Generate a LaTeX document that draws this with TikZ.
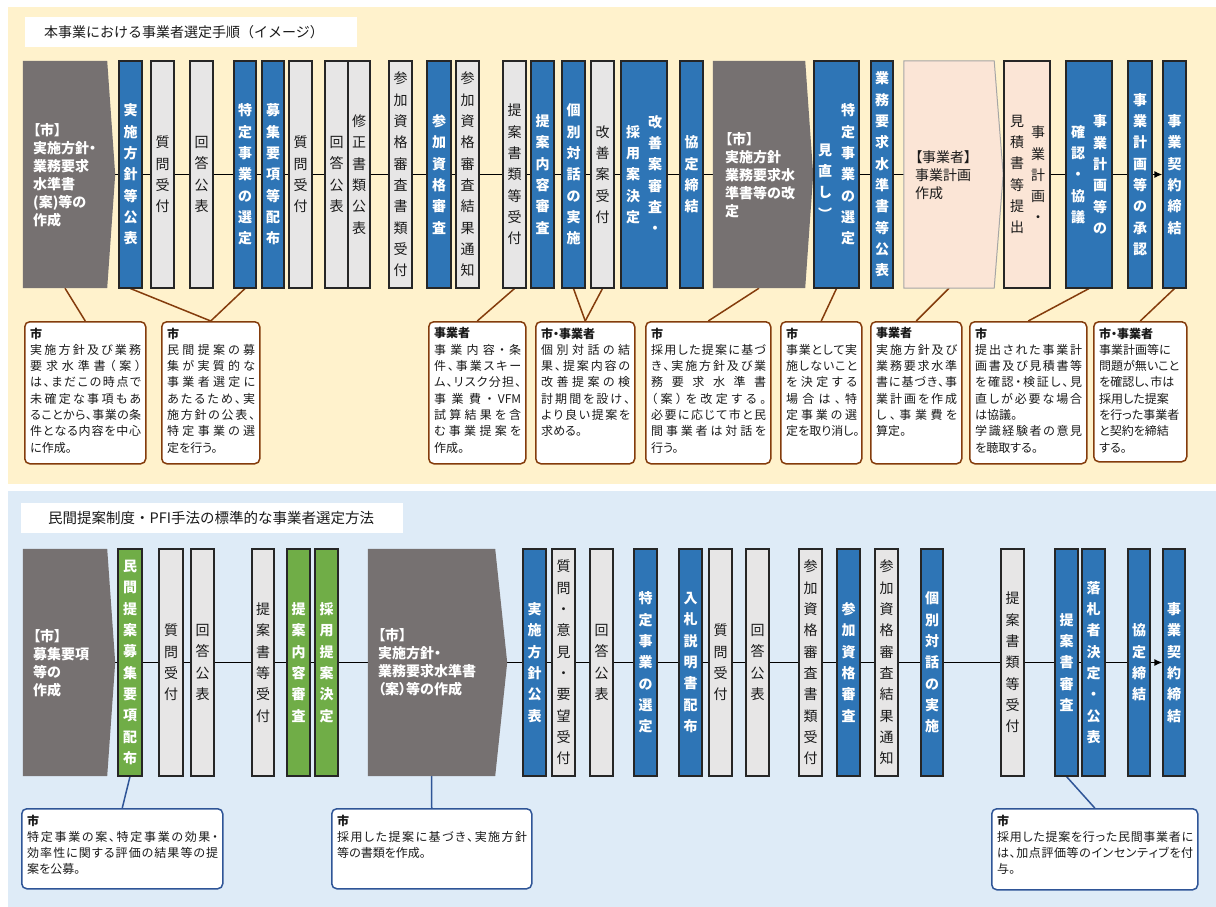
\documentclass[tikz,border=0pt]{standalone}
\usepackage{fontspec}
\setmainfont{Noto Sans CJK JP}
\newfontfamily\jpp{Noto Sans CJK JP}[RawFeature=+palt]
\usetikzlibrary{arrows.meta}
\definecolor{topbg}{HTML}{FFF2CC}
\definecolor{botbg}{HTML}{DEEBF7}
\definecolor{barblue}{HTML}{2E75B6}
\definecolor{bargray}{HTML}{E7E6E6}
\definecolor{bargreen}{HTML}{70AD47}
\definecolor{pentgray}{HTML}{767171}
\definecolor{peach}{HTML}{FBE5D6}
\definecolor{pentline}{HTML}{A6A6A6}
\definecolor{brownc}{HTML}{843C0C}
\definecolor{bluec}{HTML}{2F5597}
\definecolor{txt}{HTML}{1A1A1A}
\definecolor{barline}{HTML}{262626}
\newlength\callw
\makeatletter
\def\vt#1{\vt@a#1\vt@e}
\def\vt@a#1#2\vt@e{#1\ifx\relax#2\relax\else\\\vt@a#2\vt@e\fi}
\def\jl#1{\makebox[\callw][s]{\jl@a#1\jl@e}}
\def\jl@a#1#2\jl@e{#1\ifx\relax#2\relax\else\hfil\jl@a#2\jl@e\fi}
\makeatother
\newcommand\VFMt{VFM}
\newcommand\barfont{\fontsize{14}{21.3}\selectfont}
\newcommand\pentfont{\jpp\fontsize{14}{18}\selectfont}
\newcommand\callfont{\jpp\fontsize{12}{16.3}\selectfont}
\pgfdeclarelayer{back}
\pgfdeclarelayer{mid}
\pgfsetlayers{back,mid,main}
\tikzset{
  bar/.style={draw=barline, line width=1.1pt, inner sep=0pt, align=center},
  bluebar/.style={bar, fill=barblue, text=white, font=\barfont\bfseries},
  graybar/.style={bar, fill=bargray, text=txt, font=\barfont},
  greenbar/.style={bar, fill=bargreen, text=white, font=\barfont\bfseries},
  peachbar/.style={bar, fill=peach, text=txt, font=\barfont},
  bluetext/.style={inner sep=0pt, align=center, text=white, font=\barfont\bfseries},
  darktext/.style={inner sep=0pt, align=center, text=txt, font=\barfont},
  pentnode/.style={inner sep=0pt},
  penttext/.style={anchor=west, inner sep=0pt, align=left, text=white, font=\pentfont\bfseries},
  callbox/.style={draw=brownc, line width=1.5pt, fill=white, rounded corners=5pt, inner sep=0pt},
  bluecall/.style={callbox, draw=bluec},
  calltext/.style={anchor=north west, align=left, inner sep=0pt, font=\callfont, text=txt},
  flow/.style={line width=1.6pt, black, -{Latex[length=8pt,width=7pt]}},
  brownline/.style={draw=brownc, line width=1.5pt},
  blueline/.style={draw=bluec, line width=1.5pt},
  titlebox/.style={fill=white, anchor=north west, align=left, inner ysep=0pt, text=txt}
}
\newcommand\vbar[6]{\node[#2, minimum width={#4-#3}, minimum height=227] (#1) at ({(#3+#4)/2},#5) {#6};}
\newcommand\callout[7]{%
  \node[#6, minimum width=#4, minimum height=#5, anchor=north west] (#1) at (#2,#3) {};
  \setlength\callw{\dimexpr #4pt-10pt\relax}%
  \node[calltext] (#1t) at ({#2+6},{#3+6.5}) {#7};}
\def\yT{174.5}
\def\yB{662.5}
\begin{document}
\begin{tikzpicture}[x=1pt,y=-1pt]
\useasboundingbox (0,0) rectangle (1216,907);
\begin{pgfonlayer}{back}
\fill[white] (0,0) rectangle (1216,907);
\fill[topbg] (8,7) rectangle (1216,484);
\fill[botbg] (8,491) rectangle (1216,907);
\end{pgfonlayer}
% titles
\node[titlebox, minimum width=332, minimum height=30, text width=294, inner xsep=19pt, font=\fontsize{14}{16}\selectfont] (title1) at (25,17) {本事業における事業者選定手順（イメージ）};
\node[titlebox, minimum width=382, minimum height=30, text width=328, inner xsep=27pt, font=\fontsize{14.5}{16}\selectfont] (title2) at (21,503) {民間提案制度・PFI手法の標準的な事業者選定方法};
% ---------- top row ----------
\node[pentnode, minimum width=84, minimum height=227] (P1) at (65,\yT) {};
\fill[pentgray] (P1.north west) -- (P1.north east) -- ([xshift=8pt]P1.east) coordinate (P1tip) -- (P1.south east) -- (P1.south west) -- cycle;
\node[penttext] (P1t) at (33,175) {【市】\\実施方針・\\業務要求\\水準書\\(案)等の\\作成};
\vbar{T1}{bluebar}{119}{142}{\yT}{\vt{実施方針等公表}}
\vbar{T2}{graybar}{151}{174}{\yT}{\vt{質問受付}}
\vbar{T3}{graybar}{190}{213}{\yT}{\vt{回答公表}}
\vbar{T4}{bluebar}{234}{256}{\yT}{\vt{特定事業の選定}}
\vbar{T5}{bluebar}{262}{284}{\yT}{\vt{募集要項等配布}}
\vbar{T6}{graybar}{289}{312}{\yT}{\vt{質問受付}}
\vbar{T7}{graybar}{325}{348}{\yT}{\vt{回答公表}}
\vbar{T8}{graybar}{348}{370}{\yT}{\vt{修正書類公表}}
\vbar{T9}{graybar}{389}{412}{\yT}{\vt{参加資格審査書類受付}}
\vbar{T10}{bluebar}{427}{451}{\yT}{\vt{参加資格審査}}
\vbar{T11}{graybar}{456}{479}{\yT}{\vt{参加資格審査結果通知}}
\vbar{T12}{graybar}{503}{526}{\yT}{\vt{提案書類等受付}}
\vbar{T13}{bluebar}{531}{554}{\yT}{\vt{提案内容審査}}
\vbar{T14}{bluebar}{562}{585}{\yT}{\vt{個別対話の実施}}
\vbar{T15}{graybar}{591}{614}{\yT}{\vt{改善案受付}}
\vbar{T16}{bluebar}{621}{667}{\yT}{}
\node[bluetext] (T16r) at ([xshift=11pt]T16.center) {\vt{改善案審査・}};
\node[bluetext] (T16l) at ([xshift=-11pt]T16.center) {\vt{採用案決定}};
\vbar{T17}{bluebar}{680}{703}{\yT}{\vt{協定締結}}
\node[pentnode, minimum width=92, minimum height=227] (P2) at (759,\yT) {};
\fill[pentgray] (P2.north west) -- (P2.north east) -- ([xshift=8pt]P2.east) -- (P2.south east) -- (P2.south west) -- cycle;
\node[penttext] (P2t) at (725,175) {【市】\\実施方針\\業務要求水\\準書等の改\\定};
\vbar{T18}{bluebar}{814}{859}{\yT}{}
\node[bluetext] (T18r) at ([xshift=11.5pt]T18.center) {\vt{特定事業の選定}};
\node[bluetext] (T18l) at ([xshift=-11.5pt,yshift=-7pt]T18.center) {\vt{見直し︶}};
\vbar{T19}{bluebar}{871}{893}{\yT}{\vt{業務要求水準書等公表}}
\node[pentnode, minimum width=90, minimum height=227] (P3) at (949,\yT) {};
\filldraw[fill=peach, draw=pentline, line width=1pt] (P3.north west) -- (P3.north east) -- ([xshift=9pt]P3.east) -- (P3.south east) -- (P3.south west) -- cycle;
\node[penttext, text=txt, font=\pentfont] (P3t) at (915,175) {【事業者】\\事業計画\\作成};
\vbar{T20}{peachbar}{1004}{1050}{\yT}{}
\node[darktext] (T20r) at ([xshift=11pt]T20.center) {\vt{事業計画・}};
\node[darktext] (T20l) at ([xshift=-10pt]T20.center) {\vt{見積書等提出}};
\vbar{T21}{bluebar}{1066}{1112}{\yT}{}
\node[bluetext] (T21r) at ([xshift=11pt]T21.center) {\vt{事業計画等の}};
\node[bluetext] (T21l) at ([xshift=-11pt]T21.center) {\vt{確認・協議}};
\vbar{T22}{bluebar}{1128}{1152}{\yT}{\vt{事業計画等の承認}}
\vbar{T23}{bluebar}{1163}{1186}{\yT}{\vt{事業契約締結}}
% ---------- bottom row ----------
\node[pentnode, minimum width=84, minimum height=227] (Q1) at (65,\yB) {};
\fill[pentgray] (Q1.north west) -- (Q1.north east) -- ([xshift=8pt]Q1.east) coordinate (Q1tip) -- (Q1.south east) -- (Q1.south west) -- cycle;
\node[penttext] (Q1t) at (33,663) {【市】\\募集要項\\等の\\作成};
\vbar{B1}{greenbar}{118}{142}{\yB}{\vt{民間提案募集要項配布}}
\vbar{B2}{graybar}{159}{183}{\yB}{\vt{質問受付}}
\vbar{B3}{graybar}{191}{214}{\yB}{\vt{回答公表}}
\vbar{B4}{graybar}{252}{274}{\yB}{\vt{提案書等受付}}
\vbar{B5}{greenbar}{287}{310}{\yB}{\vt{提案内容審査}}
\vbar{B6}{greenbar}{315}{338}{\yB}{\vt{採用提案決定}}
\node[pentnode, minimum width=127, minimum height=227] (Q2) at (431.5,\yB) {};
\fill[pentgray] (Q2.north west) -- (Q2.north east) -- ([xshift=12pt]Q2.east) -- (Q2.south east) -- (Q2.south west) -- cycle;
\node[penttext] (Q2t) at (378,662) {【市】\\実施方針・\\業務要求水準書\\（案）等の作成};
\vbar{B7}{bluebar}{523}{546}{\yB}{\vt{実施方針公表}}
\vbar{B8}{graybar}{552}{575}{\yB}{\vt{質問・意見・要望受付}}
\vbar{B9}{graybar}{590}{613}{\yB}{\vt{回答公表}}
\vbar{B10}{bluebar}{634}{657}{\yB}{\vt{特定事業の選定}}
\vbar{B11}{bluebar}{679}{702}{\yB}{\vt{入札説明書配布}}
\vbar{B12}{graybar}{709}{732}{\yB}{\vt{質問受付}}
\vbar{B13}{graybar}{746}{769}{\yB}{\vt{回答公表}}
\vbar{B14}{graybar}{799}{822}{\yB}{\vt{参加資格審査書類受付}}
\vbar{B15}{bluebar}{837}{860}{\yB}{\vt{参加資格審査}}
\vbar{B16}{graybar}{875}{898}{\yB}{\vt{参加資格審査結果通知}}
\vbar{B17}{bluebar}{921}{943}{\yB}{\vt{個別対話の実施}}
\vbar{B18}{graybar}{1001}{1024}{\yB}{\vt{提案書類等受付}}
\vbar{B19}{bluebar}{1055}{1078}{\yB}{\vt{提案書審査}}
\vbar{B20}{bluebar}{1082}{1105}{\yB}{\vt{落札者決定・公表}}
\vbar{B21}{bluebar}{1128}{1150}{\yB}{\vt{協定締結}}
\vbar{B22}{bluebar}{1163}{1185}{\yB}{\vt{事業契約締結}}
% ---------- callouts top ----------
\callout{c1}{24}{321}{121}{142}{callbox}{{\bfseries 市}\\\jl{実施方針及び業務}\\\jl{要求水準書（案）}\\\jl{は、まだこの時点で}\\\jl{未確定な事項もあ}\\\jl{ることから、事業の条}\\\jl{件となる内容を中心}\\に作成。}
\callout{c2}{161}{321}{98}{142}{callbox}{{\bfseries 市}\\\jl{民間提案の募}\\\jl{集が実質的な}\\\jl{事業者選定に}\\\jl{あたるため、実}\\\jl{施方針の公表、}\\\jl{特定事業の選}\\定を行う。}
\callout{c3}{428}{321}{97}{142}{callbox}{{\bfseries 事業者}\\\jl{事業内容・条}\\\jl{件、事業スキー}\\\jl{ム、リスク分担、}\\\jl{事業費・\VFMt}\\\jl{試算結果を含}\\\jl{む事業提案を}\\作成。}
\callout{c4}{535}{321}{99}{142}{callbox}{{\bfseries 市・事業者}\\\jl{個別対話の結}\\\jl{果、提案内容の}\\\jl{改善提案の検}\\\jl{討期間を設け、}\\\jl{より良い提案を}\\求める。}
\callout{c5}{645}{321}{125}{142}{callbox}{{\bfseries 市}\\\jl{採用した提案に基づ}\\\jl{き、実施方針及び業}\\\jl{務要求水準書}\\\jl{（案）を改定する。}\\\jl{必要に応じて市と民}\\\jl{間事業者は対話を}\\行う。}
\callout{c6}{780}{321}{81}{142}{callbox}{{\bfseries 市}\\\jl{事業として実}\\\jl{施しないこと}\\\jl{を決定する}\\\jl{場合は、特}\\\jl{定事業の選}\\定を取り消し。}
\callout{c7}{870}{321}{91}{142}{callbox}{{\bfseries 事業者}\\\jl{実施方針及び}\\\jl{業務要求水準}\\\jl{書に基づき、事}\\\jl{業計画を作成}\\\jl{し、事業費を}\\算定。}
\callout{c8}{969}{321}{117}{142}{callbox}{{\bfseries 市}\\\jl{提出された事業計}\\\jl{画書及び見積書等}\\\jl{を確認・検証し、見}\\\jl{直しが必要な場合}\\は協議。\\\jl{学識経験者の意見}\\を聴取する。}
\callout{c9}{1093}{321}{93}{140}{callbox}{{\bfseries 市・事業者}\\事業計画等に\\問題が無いこと\\を確認し、市は\\採用した提案\\を行った事業者\\と契約を締結\\する。}
% ---------- callouts bottom ----------
\callout{d1}{21}{808}{201}{80}{bluecall}{{\bfseries 市}\\\jl{特定事業の案、特定事業の効果・}\\\jl{効率性に関する評価の結果等の提}\\案を公募。}
\callout{d2}{331}{808}{200}{80}{bluecall}{{\bfseries 市}\\\jl{採用した提案に基づき、実施方針}\\等の書類を作成。}
\callout{d3}{991}{808}{206}{81}{bluecall}{{\bfseries 市}\\\jl{採用した提案を行った民間事業者に}\\\jl{は、加点評価等のインセンティブを付}\\与。}
% ---------- lines ----------
\begin{pgfonlayer}{mid}
\draw[flow] (P1tip) -- (T23.west);
\draw[flow] (Q1tip) -- (B22.west);
\draw[brownline] (P1.south) -- (c1.north);
\draw[brownline] (T1.south) -- (c2.north);
\draw[brownline] (T4.south) -- (c2.north);
\draw[brownline] (T12.south) -- (c3.north);
\draw[brownline] (T14.south) -- (c4.north);
\draw[brownline] (T15.south) -- (c4.north);
\draw[brownline] (P2.south) -- (c5.north);
\draw[brownline] (T18.south) -- (c6.north);
\draw[brownline] (P3.south) -- (c7.north);
\draw[brownline] (T21.south) -- (c8.north);
\draw[brownline] (T23.south) -- (c9.north);
\draw[blueline] (B1.south) -- (d1.north);
\draw[blueline] (Q2.south) -- (d2.north);
\draw[blueline] (B19.south) -- (d3.north);
\end{pgfonlayer}
\end{tikzpicture}
\end{document}
